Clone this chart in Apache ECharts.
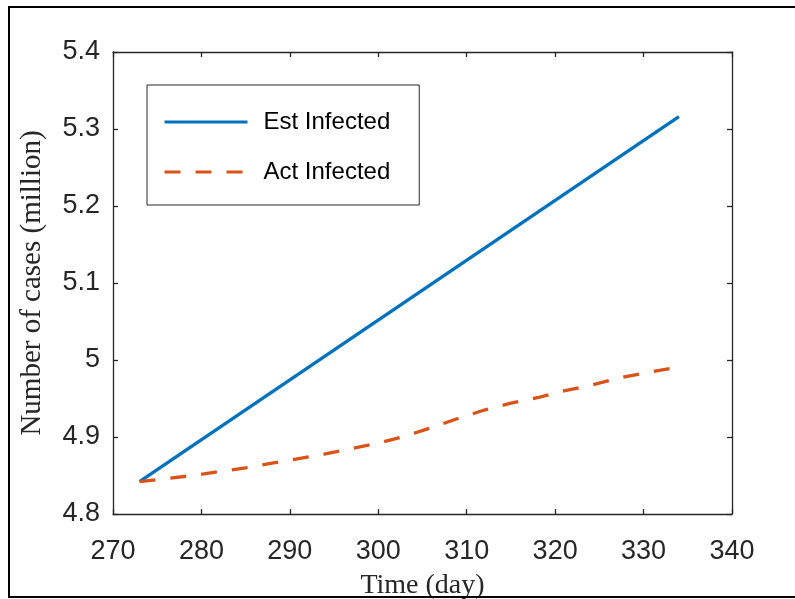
<!DOCTYPE html>
<html>
<head>
<meta charset="utf-8">
<script src="https://cdn.jsdelivr.net/npm/echarts@6/dist/echarts.min.js"></script>
<style>
html,body{margin:0;padding:0;background:#fff;}
#c{width:795px;height:599px;}
</style>
</head>
<body>
<div id="c"></div>
<script>
// Data
const estDays = [273, 334];
const estValues = [4.842, 5.316];

const actDays = [273, 276, 279, 282, 285, 288, 291, 294, 297, 300, 303, 306, 309, 312, 315, 318, 321, 324, 327, 330, 334];
const actValues = [4.842, 4.846, 4.850, 4.855, 4.860, 4.866, 4.872, 4.878, 4.885, 4.892, 4.901, 4.912, 4.924, 4.935, 4.944, 4.951, 4.960, 4.967, 4.976, 4.983, 4.991];

const seriesNames = ['Est Infected', 'Act Infected'];
const xTicks = [270, 280, 290, 300, 310, 320, 330, 340];
const yTicks = [4.8, 4.9, 5.0, 5.1, 5.2, 5.3, 5.4];

const estData = estDays.map((d, i) => [d, estValues[i]]);
const actData = actDays.map((d, i) => [d, actValues[i]]);

const axisColor = '#262626';
const sans = '"Liberation Sans", Arial, Helvetica, sans-serif';
const serif = '"Liberation Serif", "Times New Roman", serif';

const chart = echarts.init(document.getElementById('c'), null, {renderer: 'canvas'});
chart.setOption({
  animation: false,
  backgroundColor: '#fff',
  grid: {left: 113, right: 63, top: 52, bottom: 85, containLabel: false, outerBoundsMode: 'none'},
  graphic: [{
    type: 'rect', z: 100, silent: true,
    shape: {x: 9, y: 7, width: 800, height: 590},
    style: {fill: 'none', stroke: '#000', lineWidth: 2}
  }],
  legend: {
    orient: 'vertical',
    left: 147, top: 85,
    padding: [25, 29, 21, 16],
    itemWidth: 83, itemHeight: 24, itemGap: 26,
    backgroundColor: '#fff',
    borderColor: axisColor, borderWidth: 1,
    data: seriesNames,
    itemStyle: {opacity: 0},
    lineStyle: {width: 3},
    textStyle: {fontFamily: sans, fontSize: 24, color: '#000', padding: [0, 0, 0, 11], lineHeight: 24}
  },
  xAxis: [{
    type: 'value', min: xTicks[0], max: xTicks[xTicks.length - 1], interval: 10,
    position: 'bottom',
    name: 'Time (day)', nameLocation: 'middle', nameGap: 58,
    nameTextStyle: {fontFamily: serif, fontSize: 28, color: '#262626'},
    axisLine: {show: true, lineStyle: {color: axisColor, width: 1.3}},
    axisTick: {show: true, inside: true, length: 5, lineStyle: {color: axisColor, width: 1.3}},
    axisLabel: {fontFamily: sans, fontSize: 27, color: '#262626', margin: 24},
    splitLine: {show: false}
  }, {
    type: 'value', min: xTicks[0], max: xTicks[xTicks.length - 1], interval: 10,
    position: 'top',
    axisLine: {show: true, lineStyle: {color: axisColor, width: 1.3}},
    axisTick: {show: true, inside: true, length: 5, lineStyle: {color: axisColor, width: 1.3}},
    axisLabel: {show: false},
    splitLine: {show: false}
  }],
  yAxis: [{
    type: 'value', min: yTicks[0], max: yTicks[yTicks.length - 1], interval: 0.1,
    position: 'left',
    name: 'Number of cases (million)', nameLocation: 'middle', nameGap: 66,
    nameTextStyle: {fontFamily: serif, fontSize: 29, color: '#262626'},
    axisLine: {show: true, lineStyle: {color: axisColor, width: 1.3}},
    axisTick: {show: true, inside: true, length: 5, lineStyle: {color: axisColor, width: 1.3}},
    axisLabel: {fontFamily: sans, fontSize: 27, color: '#262626', margin: 13,
      formatter: v => String(Math.round(v * 10) / 10)},
    splitLine: {show: false}
  }, {
    type: 'value', min: yTicks[0], max: yTicks[yTicks.length - 1], interval: 0.1,
    position: 'right',
    axisLine: {show: true, lineStyle: {color: axisColor, width: 1.3}},
    axisTick: {show: true, inside: true, length: 5, lineStyle: {color: axisColor, width: 1.3}},
    axisLabel: {show: false},
    splitLine: {show: false}
  }],
  series: [{
    name: seriesNames[0], type: 'line', data: estData,
    xAxisIndex: 0, yAxisIndex: 0,
    symbol: 'none', smooth: false,
    lineStyle: {color: '#0072BD', width: 3.3},
    itemStyle: {color: '#0072BD'}
  }, {
    name: seriesNames[1], type: 'line', data: actData,
    xAxisIndex: 0, yAxisIndex: 0,
    symbol: 'none', smooth: false,
    lineStyle: {color: '#D95319', width: 3.3, type: [16, 15], cap: 'butt'},
    itemStyle: {color: '#D95319'}
  }]
});
</script>
</body>
</html>
